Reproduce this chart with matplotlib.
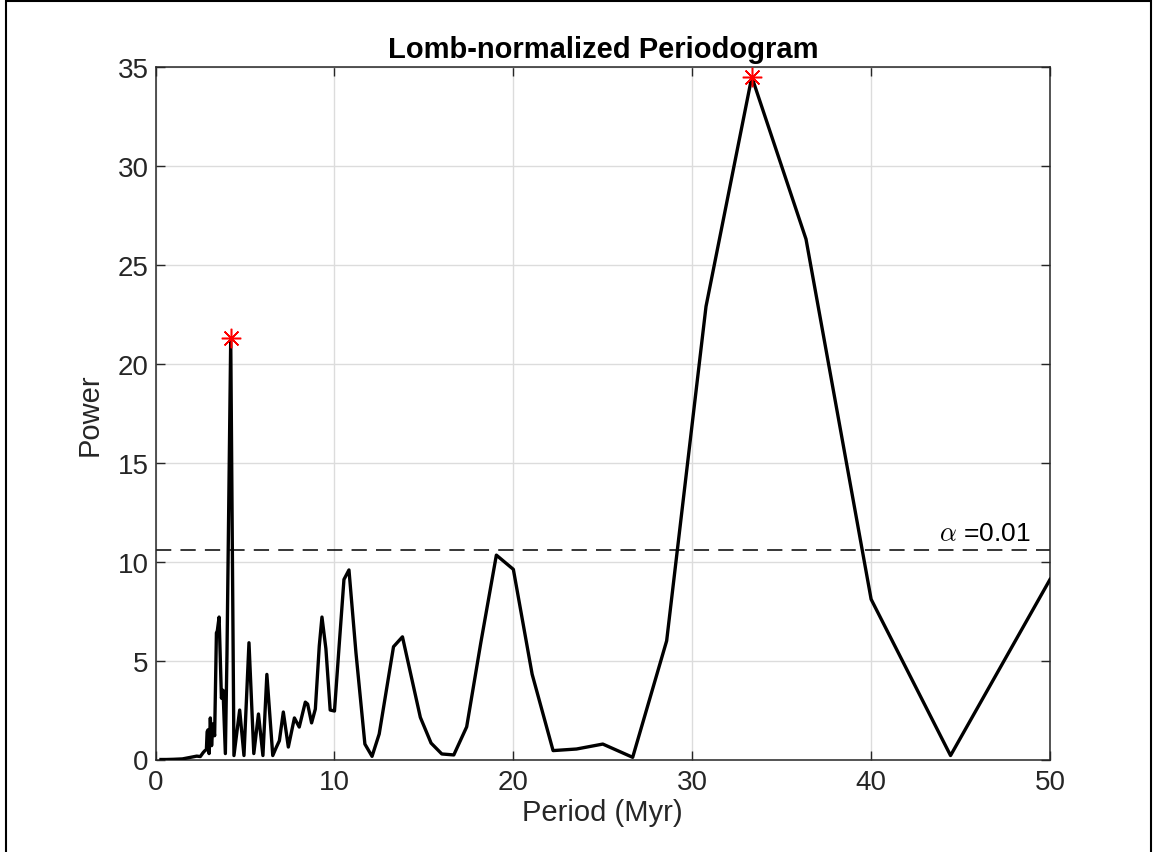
import numpy as np
import matplotlib
matplotlib.use('Agg')
import matplotlib.pyplot as plt
from matplotlib.patches import Rectangle

# periodogram (period in Myr, Lomb power)
period = [0.3, 0.6, 1.0, 1.5, 1.9, 2.3, 2.5, 2.66, 2.75, 2.84, 2.88, 2.93, 2.99,
          3.06, 3.13, 3.21, 3.30, 3.40, 3.45, 3.55, 3.68, 3.77, 3.90, 3.99,
          4.20, 4.38, 4.70, 4.94, 5.22, 5.49, 5.75, 6.00, 6.22, 6.55, 6.74,
          6.92, 7.14, 7.42, 7.76, 8.03, 8.37, 8.50, 8.72, 8.93, 9.15, 9.30,
          9.52, 9.76, 10.0, 10.26, 10.53, 10.81, 11.2, 11.7, 12.1, 12.5, 13.3,
          13.8, 14.8, 15.4, 16.0, 16.67, 17.39, 18.18, 19.05, 20.0, 21.05,
          22.22, 23.53, 25.0, 26.67, 28.57, 30.77, 33.33, 36.36, 40.0, 44.44, 50.0]
power = [0.0, 0.0, 0.01, 0.03, 0.1, 0.17, 0.15, 0.35, 0.44, 0.5, 1.4, 1.5, 0.3,
         2.1, 0.7, 1.8, 1.2, 6.4, 6.5, 7.2, 3.1, 3.5, 0.3, 5.3,
         21.3, 0.2, 2.5, 0.2, 5.9, 0.3, 2.3, 0.2, 4.3, 0.2, 0.6,
         0.95, 2.4, 0.63, 2.1, 1.64, 2.9, 2.8, 1.85, 2.55, 5.74, 7.2,
         5.6, 2.5, 2.45, 5.74, 9.1, 9.58, 5.4, 0.78, 0.16, 1.29, 5.7,
         6.2, 2.13, 0.83, 0.28, 0.23, 1.65, 5.9, 10.33, 9.61, 4.31,
         0.45, 0.53, 0.78, 0.11, 6.0, 22.9, 34.5, 26.3, 8.1, 0.2, 9.1]

peak_period = [4.20, 33.33]
peak_power = [21.3, 34.5]

alpha_level = 10.58
alpha_label = r'$\alpha$ =0.01'

plt.rcParams['font.family'] = ['Liberation Sans', 'DejaVu Sans']
plt.rcParams['mathtext.fontset'] = 'cm'
gray = '#262626'

fig = plt.figure(figsize=(11.54, 8.53), dpi=100)
ax = fig.add_axes([155.6 / 1154, 1 - 760.5 / 853, (1050 - 155.6) / 1154, (760.5 - 68) / 853])

ax.plot(period, power, color='black', linewidth=2.4, zorder=3)
ax.plot(peak_period, peak_power, linestyle='none', marker=(8, 2, 0),
        markersize=14, markeredgewidth=1.1, color='red', zorder=4)
ax.axhline(alpha_level, color='black', linewidth=1.1, linestyle=(0, (10, 6)), zorder=2)
ax.text(48.9, alpha_level + 0.25, alpha_label, ha='right', va='bottom',
        fontsize=19, color='black')

ax.set_xlim(0, 50)
ax.set_ylim(0, 35)
ax.set_xticks([0, 10, 20, 30, 40, 50])
ax.set_yticks([0, 5, 10, 15, 20, 25, 30, 35])
ax.grid(True, color='#dcdcdc', linewidth=1.0, zorder=0)
ax.set_axisbelow(True)
ax.tick_params(direction='in', length=6.5, width=1.0, top=True, right=True,
               labelsize=20, colors=gray, pad=5)
ax.tick_params(axis='x', pad=7)
for s in ax.spines.values():
    s.set_color(gray)
    s.set_linewidth(1.1)

ax.set_xlabel('Period (Myr)', fontsize=21, color=gray, labelpad=2)
ax.set_ylabel('Power', fontsize=21, color=gray, labelpad=10)
ax.set_title('Lomb-normalized Periodogram', fontsize=21, fontweight='bold', pad=7)

# outer frame
fig.patches.append(Rectangle((6 / 1154, -0.05), 1145 / 1154, 1.05 - 2 / 853,
                             transform=fig.transFigure, fill=False,
                             edgecolor='black', linewidth=1.5))

fig.savefig('out.png', dpi=100)
